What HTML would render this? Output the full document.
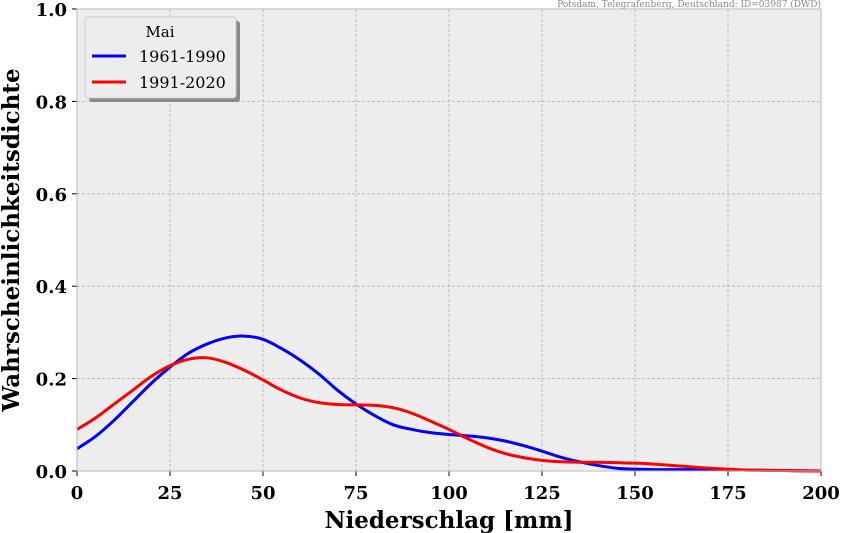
<!DOCTYPE html>
<html><head><meta charset="utf-8"><style>
body{margin:0;background:#fff;}
svg{display:block;font-family:"DejaVu Serif","Liberation Serif",serif;}
</style></head><body>
<svg id="chart" width="841" height="533" viewBox="0 0 841 533">
<rect x="77" y="9" width="744" height="462" fill="#ededed"/>
<g id="grid"></g>
<g id="ticks"></g>
<g id="series"></g>
<rect x="77" y="9" width="744" height="462" fill="none" stroke="#bbb" stroke-width="1"/>
<text x="821" y="7" text-anchor="end" font-size="9" fill="#888">Potsdam, Telegrafenberg, Deutschland: ID=03987 (DWD)</text>
<text x="449" y="528" text-anchor="middle" font-size="23" font-weight="bold">Niederschlag [mm]</text>
<text transform="translate(19,240) rotate(-90)" text-anchor="middle" font-size="23" font-weight="bold">Wahrscheinlichkeitsdichte</text>
<g>
<rect x="89" y="21" width="151" height="81" rx="3" fill="#888"/>
<rect x="85" y="17" width="151" height="81" rx="3" fill="#ededed" stroke="#ccc"/>
<text x="160" y="37" text-anchor="middle" font-size="15">Mai</text>
<g><line x1="92" y1="56" x2="126" y2="56" stroke="#0000ff" stroke-width="3"/><text x="139" y="62" font-size="16">1961-1990</text></g>
<g><line x1="92" y1="82" x2="126" y2="82" stroke="#ff0000" stroke-width="3"/><text x="139" y="88" font-size="16">1991-2020</text></g>
</g>
</svg>
<script>
const xs=[0,5,10,15,20,25,30,35,40,45,50,55,60,65,70,75,80,85,90,95,100,105,110,115,120,125,130,135,140,145,150,155,160,165,170,175,180,190,200];
const blue=[0.048,0.075,0.11,0.15,0.19,0.225,0.255,0.275,0.288,0.292,0.285,0.265,0.24,0.21,0.175,0.145,0.12,0.10,0.09,0.083,0.079,0.076,0.072,0.065,0.055,0.043,0.03,0.02,0.012,0.006,0.004,0.003,0.003,0.003,0.003,0.002,0.002,0.001,0];
const red=[0.09,0.115,0.145,0.175,0.205,0.228,0.242,0.245,0.235,0.218,0.197,0.175,0.158,0.148,0.144,0.143,0.142,0.137,0.125,0.108,0.09,0.07,0.052,0.038,0.029,0.023,0.02,0.019,0.019,0.018,0.017,0.015,0.012,0.009,0.006,0.004,0.002,0.001,0];
const xTicks=[0,25,50,75,100,125,150,175,200];
const yTicks=[0,0.2,0.4,0.6,0.8,1.0];
const X=v=>77+v*744/200, Y=v=>471-v*462;
const NS="http://www.w3.org/2000/svg";
const grid=document.getElementById('grid'),ticks=document.getElementById('ticks'),ser=document.getElementById('series');
function mk(tag,attrs,parent){const e=document.createElementNS(NS,tag);for(const k in attrs)e.setAttribute(k,attrs[k]);parent.appendChild(e);return e;}
xTicks.forEach(t=>{
 const g=mk('line',{x1:X(t),x2:X(t),y1:9,y2:471,stroke:'#b0b0b0','stroke-dasharray':'3,2','stroke-width':0.8},grid);
 
 
 const tk=mk('line',{x1:X(t),x2:X(t),y1:471,y2:476,stroke:'#000'},ticks);
 
 
 const l=mk('text',{x:X(t),y:499,'text-anchor':'middle','font-size':18,'font-weight':'bold'},ticks);
 
 
 l.textContent=t;
});
yTicks.forEach(t=>{
 const g=mk('line',{x1:77,x2:821,y1:Y(t),y2:Y(t),stroke:'#b0b0b0','stroke-dasharray':'3,2','stroke-width':0.8},grid);
 
 
 const tk=mk('line',{x1:72,x2:77,y1:Y(t),y2:Y(t),stroke:'#000'},ticks);
 
 
 const l=mk('text',{x:67,y:Y(t)+7,'text-anchor':'end','font-size':18,'font-weight':'bold'},ticks);
 
 
 l.textContent=t.toFixed(1);
});
function path(vals){
 const p=xs.map((x,i)=>[X(x),Y(vals[i])]);
 let d='M'+p[0][0]+','+p[0][1];
 for(let i=0;i<p.length-1;i++){
  const p0=p[i-1]||p[i],p1=p[i],p2=p[i+1],p3=p[i+2]||p[i+1];
  const c1=[p1[0]+(p2[0]-p0[0])/6,p1[1]+(p2[1]-p0[1])/6],c2=[p2[0]-(p3[0]-p1[0])/6,p2[1]-(p3[1]-p1[1])/6];
  d+=`C${c1[0]},${c1[1]} ${c2[0]},${c2[1]} ${p2[0]},${p2[1]}`;
 }
 return d;
}
const b=mk('path',{d:path(blue),fill:'none',stroke:'#0000ff','stroke-width':3},ser);


const r=mk('path',{d:path(red),fill:'none',stroke:'#ff0000','stroke-width':3},ser);


</script>
</body></html>
